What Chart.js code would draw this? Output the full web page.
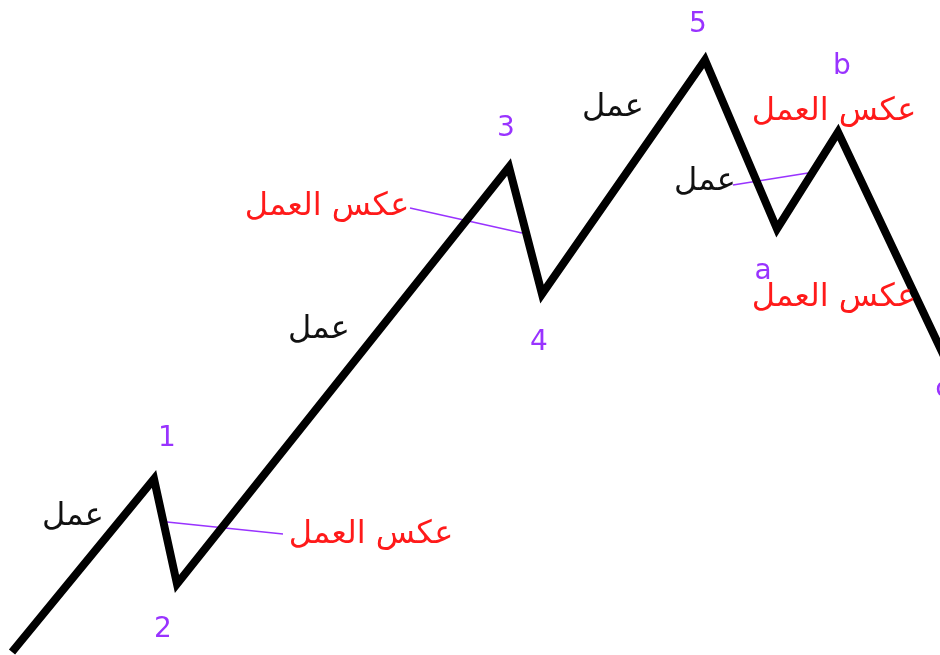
<!DOCTYPE html>
<html>
<head>
<meta charset="utf-8">
<script src="https://cdn.jsdelivr.net/npm/chart.js@4/dist/chart.umd.min.js"></script>
<style>
html,body{margin:0;padding:0;background:#fff;}
#wrap{width:940px;height:655px;}
</style>
</head>
<body>
<div id="wrap"><canvas id="c" width="940" height="655"></canvas></div>
<script>
// Wave turning points (time, price)
const waveTime  = [12, 154, 177, 509, 542, 705, 777, 838, 960];
const wavePrice = [3, 176, 71, 488, 361, 595, 426, 523, 265];

// Wave labels
const labelText  = ['1', '2', '3', '4', '5', 'a', 'b', 'c'];
const labelTime  = [167, 163, 506, 539, 698, 763, 842, 943];
const labelPrice = [216, 25, 526, 312, 630, 383, 588, 265];

// Annotation texts: "عمل" (action) and "عكس العمل" (reaction)
const actionText  = 'عمل';
const actionTime  = [73, 319, 613, 705];
const actionPrice = [138, 325, 547, 473];
const reactText   = 'عكس العمل';
const reactTime   = [371, 327, 834, 834];
const reactPrice  = [120, 448, 543, 357];

// Connector lines (start/end)
const connStartTime  = [167, 410, 733];
const connStartPrice = [133, 447, 470];
const connEndTime    = [283, 522, 808];
const connEndPrice   = [121, 422, 482];

const datasets = [];
datasets.push({
  data: waveTime.map((t, i) => ({x: t, y: wavePrice[i]})),
  borderColor: '#000', borderWidth: 8, pointRadius: 0,
  borderJoinStyle: 'miter', borderCapStyle: 'butt', tension: 0
});
connStartTime.forEach((t, i) => {
  datasets.push({
    data: [{x: t, y: connStartPrice[i]}, {x: connEndTime[i], y: connEndPrice[i]}],
    borderColor: '#9933ff', borderWidth: 1.5, pointRadius: 0, tension: 0
  });
});

const textPlugin = {
  id: 'texts',
  afterDatasetsDraw(chart) {
    const ctx = chart.ctx, xs = chart.scales.x, ys = chart.scales.y;
    ctx.save();
    ctx.textAlign = 'center';
    ctx.textBaseline = 'middle';
    ctx.font = '28px "DejaVu Sans"';
    ctx.fillStyle = '#9933ff';
    labelText.forEach((s, i) => ctx.fillText(s, xs.getPixelForValue(labelTime[i]), ys.getPixelForValue(labelPrice[i])));
    ctx.font = '32px "DejaVu Sans"';
    ctx.fillStyle = '#111';
    actionTime.forEach((t, i) => ctx.fillText(actionText, xs.getPixelForValue(t), ys.getPixelForValue(actionPrice[i])));
    ctx.fillStyle = '#ff1a1a';
    reactTime.forEach((t, i) => ctx.fillText(reactText, xs.getPixelForValue(t), ys.getPixelForValue(reactPrice[i])));
    ctx.restore();
  }
};

new Chart(document.getElementById('c'), {
  type: 'line',
  data: { datasets },
  options: {
    responsive: false, animation: false,
    layout: { padding: 0 },
    plugins: { legend: { display: false }, tooltip: { enabled: false } },
    scales: {
      x: { type: 'linear', min: 0, max: 940, display: false },
      y: { type: 'linear', min: 0, max: 655, display: false }
    }
  },
  plugins: [textPlugin]
});
</script>
</body>
</html>
